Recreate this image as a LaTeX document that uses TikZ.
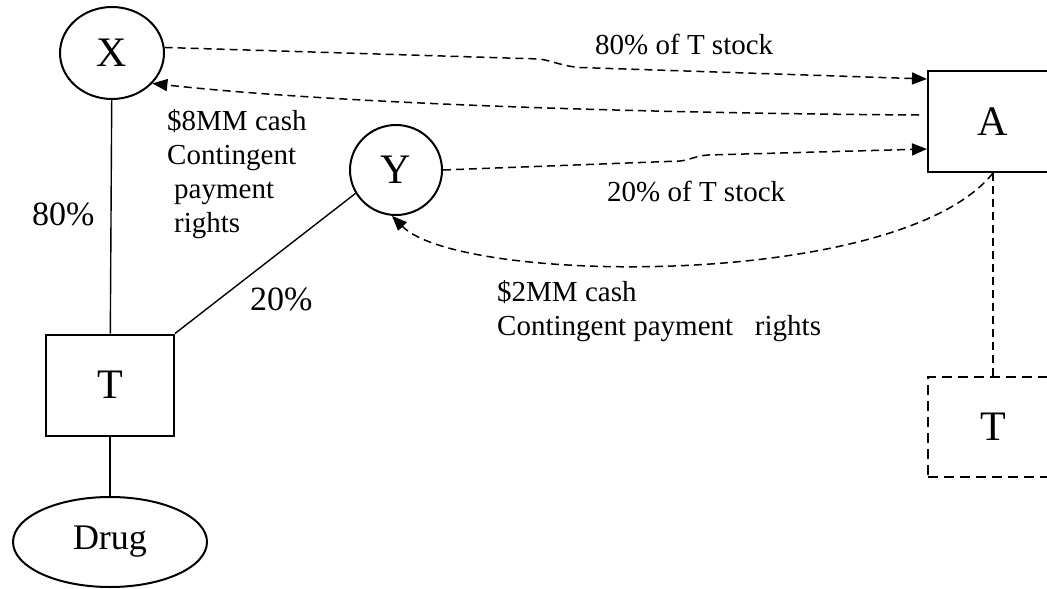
\documentclass[tikz,border=0pt]{standalone}
\usepackage{fontspec}
\setmainfont{Liberation Serif}
\usetikzlibrary{arrows.meta,shapes.geometric}

\begin{document}
\begin{tikzpicture}[x=1pt,y=1pt,
      caja/.style={draw,line width=2pt,minimum width=128pt,minimum height=101pt,
                   font=\fontsize{42}{48}\selectfont},
      circulo/.style={ellipse,draw,line width=2pt,inner sep=0pt,font=\fontsize{42}{48}\selectfont},
      flecha/.style={-{Triangle[length=15pt,width=12pt]},dash pattern=on 8pt off 5pt,line width=1.5pt},
      guion/.style={dash pattern=on 8pt off 5pt,line width=1.5pt},
      linea/.style={line width=1.4pt},
      rotulo/.style={anchor=base west,inner sep=0pt,align=left,font=\fontsize{29}{34}\selectfont},
      pct/.style={anchor=base west,inner sep=0pt,font=\fontsize{34}{40}\selectfont}]
    \clip (0,0) rectangle (1047,-589);
    \node[circulo,minimum width=104pt,minimum height=92pt] (X) at (112,-53) {X};
    \node[circulo,minimum width=92pt,minimum height=90pt] (Y) at (396,-170) {Y};
    \node[caja,minimum width=130pt] (A) at (993,-121.5) {A};
    \node[caja,dash pattern=on 10pt off 6pt,minimum width=130pt,minimum height=100pt] (T2) at (993,-427) {T};
    \node[caja] (T) at (110,-385) {T};
    \node[circulo,minimum width=194pt,minimum height=90pt,font=\fontsize{36}{40}\selectfont] (D) at (110,-542) {Drug};
    \draw[linea] (X) -- (T);
    \draw[linea] (T.north east) -- (Y.210);
    \draw[linea,line width=2.7pt] (T) -- (D);
    \draw[flecha] (X.6) -- (540,-59) .. controls (556,-62) and (562,-66) .. (580,-67.5) -- ([yshift=-9pt]A.north west);
    \draw[flecha] ([xshift=-8pt,yshift=6.5pt]A.west) .. controls (620,-113) and (330,-103) .. (X.-37);
    \draw[flecha] (Y.east) -- (680,-161) .. controls (690,-160) and (695,-156) .. (708,-155) -- ([yshift=24pt]A.south west);
    \draw[flecha] (A.south) .. controls (900,-290) and (460,-285) .. (Y.-95);
    \draw[guion] (A.south) -- (T2.north);
    \node[rotulo] (l1) at (595,-54) {80\% of T stock};
    \node[rotulo] (l2) at (167,-232) {\$8MM cash\\Contingent\\\hspace*{7pt}payment\\\hspace*{7pt}rights};
    \node[rotulo] (l3) at (607,-201) {20\% of T stock};
    \node[rotulo] (l4) at (497,-335) {\$2MM cash\\Contingent payment~~~rights};
    \node[pct] (p1) at (32,-225) {80\%};
    \node[pct] (p2) at (250,-310) {20\%};
  \end{tikzpicture}
\end{document}
